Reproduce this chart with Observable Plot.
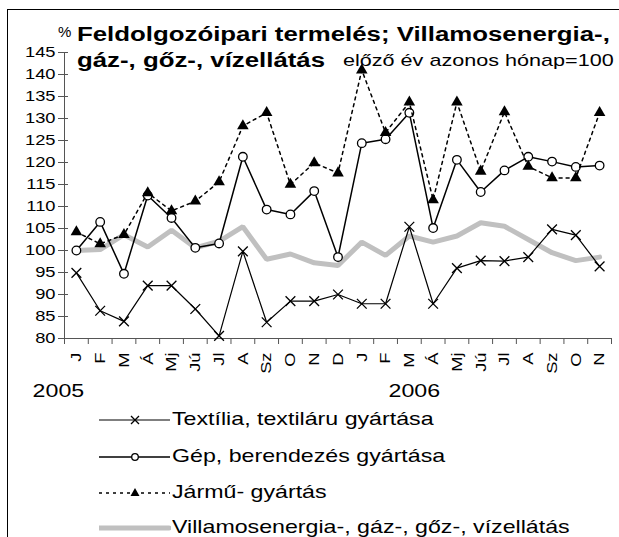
<!DOCTYPE html>
<html><head><meta charset="utf-8">
<script src="https://cdn.jsdelivr.net/npm/d3@7"></script>
<script src="https://cdn.jsdelivr.net/npm/@observablehq/plot@0.6"></script>
<style>
body{margin:0;background:#fff;}
#wrap{position:relative;width:619px;height:537px;overflow:hidden;font-family:"Liberation Sans",Arial,sans-serif;color:#000;}
#frame{position:absolute;left:7px;top:9px;width:800px;height:800px;border-left:1px solid #000;border-top:1px solid #000;}
#chart{position:absolute;left:0;top:0;}
.t{position:absolute;white-space:nowrap;transform-origin:0 0;line-height:1;}
.leg{position:absolute;left:99px;height:20px;white-space:nowrap;}
.leg svg{position:absolute;left:0;top:0;}
.leg span{position:absolute;left:73px;top:-1px;font-size:19px;line-height:20px;transform-origin:0 50%;}
</style></head>
<body>
<div id="wrap">
  <div id="frame"></div>
  <div id="chart"></div>
  <div class="t" id="pct" style="left:58px;top:24px;font-size:15px;">%</div>
  <div class="t" id="t1" style="left:77px;top:24px;font-size:20px;font-weight:bold;"></div>
  <div class="t" id="t2" style="left:77px;top:50px;font-size:20px;font-weight:bold;"></div>
  <div class="t" id="t3" style="left:343px;top:52px;font-size:17px;"></div>
  <div id="legend"></div>
</div>
<script>
const titleLine1 = "Feldolgozóipari termelés; Villamosenergia-,";
const titleLine2 = "gáz-, gőz-, vízellátás";
const subtitle = "előző év azonos hónap=100";
const months = ["J","F","M","Á","Mj","Jú","Jl","A","Sz","O","N","D","J","F","M","Á","Mj","Jú","Jl","A","Sz","O","N"];
const years = ["2005","2006"];
const yTicks = [80,85,90,95,100,105,110,115,120,125,130,135,140,145];
const seriesNames = ["Textília, textiláru gyártása","Gép, berendezés gyártása","Jármű- gyártás","Villamosenergia-, gáz-, gőz-, vízellátás"];
const textilia = [94.9,86.3,83.9,92.0,92.0,86.7,80.6,99.8,83.7,88.5,88.5,90.0,87.9,87.9,105.4,87.9,96.0,97.7,97.6,98.5,104.8,103.5,96.4];
const gep      = [100.0,106.5,94.7,112.5,107.4,100.6,101.6,121.3,109.3,108.2,113.5,98.5,124.4,125.3,131.3,105.1,120.6,113.3,118.2,121.3,120.2,119.0,119.3];
const jarmu    = [104.2,101.5,103.6,113.1,109.0,111.2,115.6,128.3,131.3,115.0,119.9,117.6,141.0,126.8,133.7,111.5,133.7,118.0,131.5,119.1,116.5,116.5,131.3];
const villamos = [100.0,100.2,103.6,100.8,104.6,100.6,102.1,105.4,98.0,99.2,97.2,96.6,101.9,98.9,103.3,101.9,103.3,106.3,105.5,102.5,99.5,97.7,98.5];

const SX = 1.22;
const n = months.length;
const X = (d, i) => i;
const Y = d => d;
const axisColor = "#555";

const chart = Plot.plot({
  width: 619, height: 400,
  marginLeft: 64, marginRight: 8, marginTop: 52, marginBottom: 62,
  style: {fontFamily: "Liberation Sans, Arial, sans-serif", fontSize: "15px", color: "#000", background: "transparent", overflow: "visible"},
  x: {type: "linear", domain: [-0.5, n - 0.5]},
  y: {domain: [80, 145]},
  marks: [
    Plot.ruleX([-0.5], {stroke: axisColor}),
    Plot.ruleY([80], {stroke: axisColor}),
    Plot.axisY({ticks: yTicks, tickSize: 6, tickPadding: 3, stroke: axisColor, label: null, fill: "#000"}),
    Plot.axisY({ticks: yTicks, tickSize: -4, tickFormat: () => "", stroke: axisColor, label: null}),
    Plot.axisX({ticks: d3.range(n + 1).map(i => i - 0.5), tickSize: 6, tickFormat: () => "", stroke: axisColor, label: null}),
    Plot.axisX({ticks: d3.range(n), tickSize: 0, tickPadding: 14, tickRotate: -90, tickFormat: i => months[i], label: null, fill: "#000"}),
    Plot.lineY(villamos, {x: X, y: Y, stroke: "#c0c0c0", strokeWidth: 5, strokeLinejoin: "miter"}),
    Plot.lineY(textilia, {x: X, y: Y, stroke: "#000", strokeWidth: 1.2}),
    Plot.dot(textilia, {x: X, y: Y, symbol: "times", r: 4.5, stroke: "#000", strokeWidth: 1.3}),
    Plot.lineY(gep, {x: X, y: Y, stroke: "#000", strokeWidth: 1.5}),
    Plot.dot(gep, {x: X, y: Y, r: 4.3, fill: "#fff", stroke: "#000", strokeWidth: 1.3}),
    Plot.lineY(jarmu, {x: X, y: Y, stroke: "#000", strokeWidth: 1.5, strokeDasharray: "3,4"}),
    Plot.dot(jarmu, {x: X, y: Y, symbol: "triangle", r: 4.3, fill: "#000", stroke: null}),
    Plot.text([years[0]], {x: 0, y: 80, dx: -18, dy: 52, fontSize: 19, text: d => d}),
    Plot.text([years[1]], {x: 14, y: 80, dx: 5, dy: 52, fontSize: 19, text: d => d})
  ]
});
document.getElementById("chart").appendChild(chart);
// wide rendering of the original font
chart.querySelectorAll("text").forEach(t => {
  const L = t.getComputedTextLength();
  if (L > 0) { t.setAttribute("textLength", L * SX); t.setAttribute("lengthAdjust", "spacingAndGlyphs"); }
});

document.getElementById("t1").textContent = titleLine1;
document.getElementById("t2").textContent = titleLine2;
document.getElementById("t3").textContent = subtitle;
document.getElementById("t1").style.transform = "scaleX(1.29)";
document.getElementById("t2").style.transform = "scaleX(1.29)";
document.getElementById("t3").style.transform = "scaleX(1.27)";

// legend
const legendRows = [420, 457, 493, 528];
const icons = [
  `<line x1="0" y1="10" x2="71" y2="10" stroke="#000" stroke-width="1.2"/><path d="M32,6 L40,14 M40,6 L32,14" stroke="#000" stroke-width="1.3"/>`,
  `<line x1="0" y1="10" x2="71" y2="10" stroke="#000" stroke-width="1.5"/><circle cx="36" cy="10" r="3.3" fill="#fff" stroke="#000" stroke-width="1.3"/>`,
  `<line x1="0" y1="10" x2="71" y2="10" stroke="#000" stroke-width="1.5" stroke-dasharray="3,4"/><path d="M36,5 L40.5,13 L31.5,13 Z" fill="#000"/>`,
  `<line x1="0" y1="10" x2="70" y2="10" stroke="#c0c0c0" stroke-width="5" stroke-linecap="round"/>`
];
const legend = document.getElementById("legend");
seriesNames.forEach((name, i) => {
  const row = document.createElement("div");
  row.className = "leg";
  row.style.top = (legendRows[i] - 10) + "px";
  row.innerHTML = `<svg width="72" height="20">${icons[i]}</svg><span style="transform:scaleX(${SX})">${name}</span>`;
  legend.appendChild(row);
});
</script>
</body></html>
